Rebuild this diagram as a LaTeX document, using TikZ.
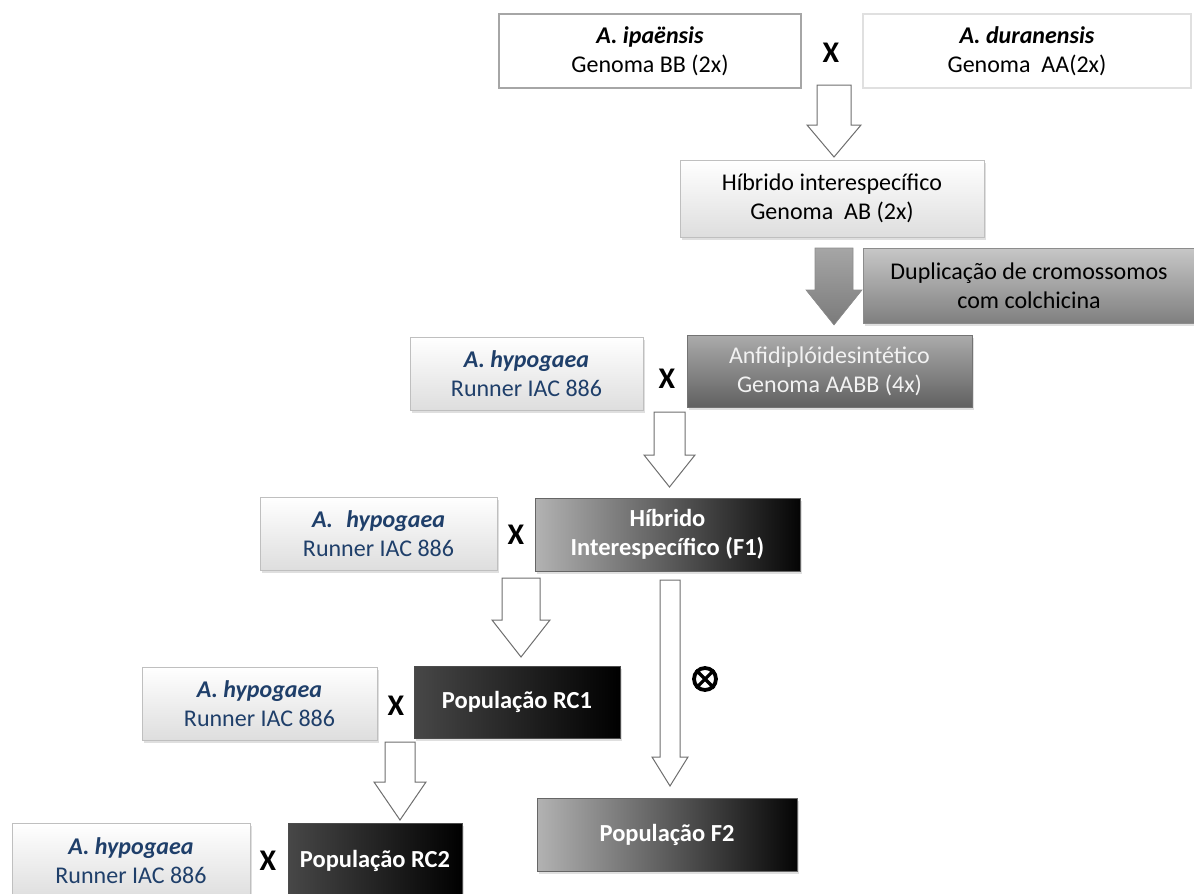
\documentclass[tikz,border=0pt]{standalone}
\usepackage{fontspec}
\setmainfont{Carlito}
\usetikzlibrary{shadows}
\definecolor{hypblue}{HTML}{1F3F6A}
\definecolor{arrline}{HTML}{6E6E6E}
\begin{document}
\begin{tikzpicture}[x=1pt,y=-1pt,
  txt/.style={font=\fontsize{24}{29}\selectfont},
  base/.style={rectangle, inner sep=0pt, align=center, txt},
  shad/.style={drop shadow={opacity=0.25, shadow xshift=2pt, shadow yshift=-3pt}},
  topbox/.style={base, fill=white, line width=2.8pt},
  lightbox/.style={base, shad, top color=white, bottom color=black!13, draw=black!25, line width=0.8pt},
  hypbox/.style={lightbox, text=hypblue},
  dupbox/.style={base, shad, top color=black!22, bottom color=black!50, draw=black!45, line width=0.8pt},
  anfbox/.style={base, shad, top color=black!33, bottom color=black!62, draw=black!55, line width=0.8pt, text=black!5},
  fbox/.style={base, shad, left color=black!30, middle color=black!58, right color=black!98, draw=black!60, line width=0.8pt, text=white, font=\fontsize{24.5}{29}\selectfont\bfseries},
  rcbox/.style={base, shad, left color=black!72, right color=black, draw=black!70, line width=0.8pt, text=white, font=\fontsize{24.5}{29}\selectfont\bfseries},
  cross/.style={font=\fontsize{30}{30}\selectfont\bfseries, inner sep=0pt},
  openarr/.style={draw=arrline, fill=white, line width=1pt, line join=miter},
  grayarr/.style={draw=black!45, top color=black!35, bottom color=black!52, line width=0.6pt}
]
\useasboundingbox (0,0) rectangle (1194,894);
\clip (0,0) rectangle (1194,894);

% top row
\node[topbox, draw=black!35, minimum width=302pt, minimum height=74pt] (ipa) at (650,51)
  {\textbf{\textit{A. ipaënsis}}\\Genoma BB (2x)};
\node[topbox, draw=black!12, minimum width=328pt, minimum height=74pt] (dur) at (1027,51)
  {\textbf{\textit{A. duranensis}}\\Genoma\ \ AA(2x)};
\node[cross] (x1) at (831,53) {X};

\draw[openarr] (817,85) -- (851,85) -- (851,125) -- (861,125) -- (834,157) -- (807,125) -- (817,125) -- cycle;

\node[lightbox, minimum width=304pt, minimum height=77pt] (hib) at (832,198.5)
  {Híbrido interespecífico\\Genoma\ \ AB (2x)};

\draw[grayarr] (815,248) -- (853,248) -- (853,290) -- (862,290) -- (834,325) -- (806,290) -- (815,290) -- cycle;
\node[dupbox, minimum width=332pt, minimum height=75pt] (dup) at (1029,285.5)
  {Duplicação de cromossomos\\com colchicina};

% row 3
\node[hypbox, minimum width=233pt, minimum height=73pt] (hyp1) at (526.5,373.5)
  {\textbf{\textit{A. hypogaea}}\\Runner IAC 886};
\node[cross] (x2) at (667,379) {X};
\node[anfbox, minimum width=285pt, minimum height=72pt] (anf) at (829.5,371)
  {Anfidiplóidesintético\\Genoma AABB (4x)};

\draw[openarr] (654,412) -- (685,412) -- (685,455) -- (695,455) -- (669.5,487) -- (644,455) -- (654,455) -- cycle;

% row 4
\node[hypbox, minimum width=237pt, minimum height=73pt] (hyp2) at (378.5,533.5)
  {\textbf{\textit{A.\hspace{0.55em}hypogaea}}\\Runner IAC 886};
\node[cross] (x3) at (516,535) {X};
\node[fbox, minimum width=265pt, minimum height=73pt] (f1) at (667.5,534.5)
  {Híbrido\\Interespecífico (F1)};

\draw[openarr] (502,578) -- (540,578) -- (540,620) -- (550,620) -- (521,657) -- (492,620) -- (502,620) -- cycle;
\draw[openarr] (660,580) -- (680,580) -- (680,757) -- (688,757) -- (670,786) -- (652,757) -- (660,757) -- cycle;

\node[circle, draw, line width=3.8pt, minimum size=22pt, inner sep=0pt] (self) at (705,679) {};
\draw[line width=3.2pt] (self.north west) -- (self.south east) (self.north east) -- (self.south west);

% row 5
\node[hypbox, minimum width=235pt, minimum height=73pt] (hyp3) at (259.5,703.5)
  {\textbf{\textit{A. hypogaea}}\\Runner IAC 886};
\node[cross] (x4) at (396,706) {X};
\node[rcbox, minimum width=206pt, minimum height=72pt] (rc1) at (517,702)
  {População RC1};

\draw[openarr] (385,742) -- (415,742) -- (415,782) -- (426,782) -- (400,820) -- (374,782) -- (385,782) -- cycle;

% bottom row
\node[hypbox, minimum width=238pt, minimum height=76pt] (hyp4) at (131,861)
  {\textbf{\textit{A. hypogaea}}\\Runner IAC 886};
\node[cross] (x5) at (268,861) {X};
\node[rcbox, minimum width=174pt, minimum height=76pt] (rc2) at (375,861)
  {População RC2};
\node[fbox, minimum width=260pt, minimum height=73pt] (f2) at (667,834.5)
  {População F2};
\end{tikzpicture}
\end{document}
